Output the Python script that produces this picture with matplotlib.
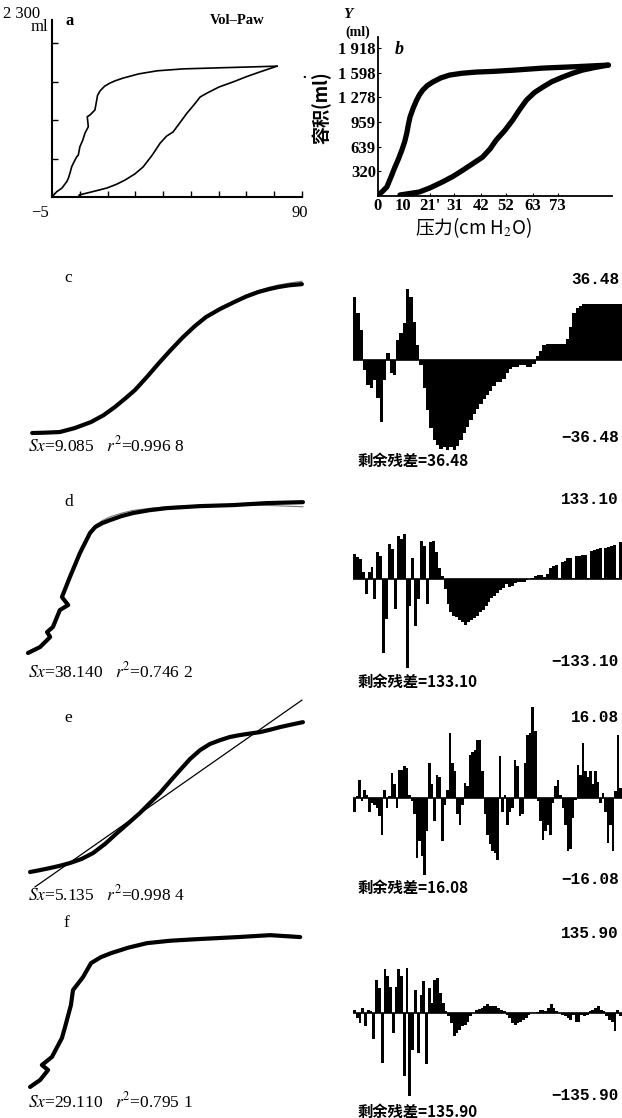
import numpy as np
import matplotlib
matplotlib.use("Agg")
import matplotlib.pyplot as plt

plt.rcParams['font.family'] = ['Liberation Serif', 'Noto Sans CJK SC', 'DejaVu Sans']
plt.rcParams['mathtext.fontset'] = 'stix'

W, H = 622, 1118
CJK = ['Noto Sans CJK SC', 'DejaVu Sans']

# ---- panel a : Vol-Paw loop (cmH2O, ml)
a_infl_p = [5.3, 5.3, 10.5, 15.9, 19.5, 22.8, 26.5, 29.6, 33, 36.1, 38.5, 41.0, 43.5, 46.3, 49,
            51.3, 53.9, 58.5, 63.8, 69, 74.0, 80.5]
a_infl_v = [0, 26, 70, 117, 165, 221, 300, 390, 540, 700, 790, 845, 960, 1090, 1200,
            1300, 1350, 1430, 1495, 1565, 1625, 1700]
a_defl_p = [80.5, 60, 45, 35, 28, 22, 19, 17, 15, 13.3, 12.3, 12.0, 11.3, 9.4, 8.4, 8.8, 7.5,
            6.7, 5.6, 5.0, 4.4, 3.4, 2.5, 1.8, 1.2, 0.6, -1.3, -3.2, -4.7, -5]
a_defl_v = [1700, 1680, 1665, 1640, 1600, 1545, 1510, 1480, 1440, 1380, 1320, 1260, 1130, 1065,
            1043, 913, 827, 740, 653, 545, 523, 458, 394, 307, 242, 199, 113, 69, 13, 0]
a_xticks = np.linspace(-5, 90, 10)
a_yticks = [500, 1000, 1500, 2000]

# ---- panel b
b_infl_p = [8.9, 16.8, 21.1, 26.1, 30.5, 34.5, 38.5, 42.5, 45.5, 48.0, 51.5, 54.7, 57.5, 60.3,
            63.5, 66.9, 70.5, 74.9, 79, 83.0, 88, 93.5]
b_infl_v = [13, 52, 105, 181, 255, 336, 420, 505, 610, 725, 850, 984, 1120, 1243,
            1340, 1411, 1480, 1540, 1590, 1631, 1665, 1696]
b_defl_p = [93.5, 80, 66.9, 55, 47, 40.1, 34, 29.1, 25.5, 22.2, 20, 18.2, 16.8, 15.7, 14.3,
            13.0, 12.3, 11.7, 10.8, 9.7, 8.3, 6.9, 5.2, 3.6, 1.5, 0]
b_defl_v = [1696, 1675, 1657, 1630, 1615, 1606, 1590, 1567, 1530, 1476, 1430, 1373, 1310, 1243,
            1140, 1023, 920, 816, 700, 596, 480, 376, 240, 117, 50, 13]
b_xticks = [0, 10, 21, 31, 42, 52, 63, 73]
b_xlabels = ['0', '10', "21'", '31', '42', '52', '63', '73']
b_yticks = [320, 639, 959, 1278, 1598, 1918]
b_ylabels = ['320', '639', '959', '1 278', '1 598', '1 918']

# ---- panels c-f : measured curve, fitted curve
c_p = [1.2, 5, 9.2, 13.5, 18.2, 21.8, 25.1, 28, 30.9, 34.4, 37.8, 41.3, 44.8, 48.1, 51.4,
       55.5, 59.5, 63, 66.4, 69.5, 72.2, 75.5, 79.1]
c_v = [76, 80, 87, 130, 196, 270, 360, 450, 545, 690, 839, 985, 1123, 1240, 1341,
       1430, 1504, 1565, 1613, 1645, 1668, 1688, 1700]
c_fit = [72, 78, 88, 135, 200, 278, 368, 458, 552, 698, 845, 990, 1128, 1246, 1348,
         1440, 1515, 1580, 1628, 1664, 1690, 1712, 1732]

d_p = [0, 3.5, 6.4, 5.5, 7.2, 9.2, 11.6, 9.8, 12.1, 15.0, 17.9, 19.4, 21.5, 23.7, 27, 30.3,
       35, 40.1, 49.7, 59.2, 69.0, 79.4]
d_v = [55, 120, 229, 283, 338, 523, 578, 665, 883, 1145, 1363, 1428, 1472, 1504, 1548, 1581,
       1612, 1635, 1657, 1668, 1690, 1700]
d_fit = [40, 110, 230, 290, 350, 530, 590, 680, 890, 1150, 1370, 1450, 1500, 1540, 1580, 1610,
         1632, 1650, 1665, 1670, 1665, 1650]

e_p = [0.6, 3.5, 6.4, 9.2, 12.1, 15.5, 18.8, 22.3, 25.7, 29, 32.3, 35.2, 38.1, 41, 43.9, 46.8,
       49.7, 52.6, 55.5, 58.3, 61.2, 64, 67.0, 70, 72.8, 76, 79.4]
e_v = [87, 108, 131, 155, 185, 230, 294, 395, 512, 620, 730, 840, 948, 1075, 1199, 1320,
       1417, 1485, 1526, 1560, 1581, 1597, 1613, 1640, 1668, 1695, 1722]
e_line_p = [2.0, 79.1]
e_line_v = [-76, 1962]

f_p = [0.6, 3.5, 5.8, 4.0, 6.9, 9.8, 10.7, 12.4, 13.0, 15.9, 18.2, 21, 24.0, 29, 34.4, 41,
       49.1, 60.6, 69.9, 78.6]
f_v = [55, 131, 240, 294, 382, 589, 709, 948, 1112, 1254, 1406, 1470, 1515, 1575, 1624, 1650,
       1668, 1690, 1711, 1690]
f_fit = [50, 125, 230, 290, 380, 590, 720, 950, 1120, 1260, 1400, 1470, 1520, 1580, 1630, 1655,
         1675, 1700, 1720, 1705]

sx_text = [r'$Sx$=9.085   $r^2$=0.996 8', r'$Sx$=38.140   $r^2$=0.746 2',
           r'$Sx$=5.135   $r^2$=0.998 4', r'$Sx$=29.110   $r^2$=0.795 1']

# ---- residuals
res_c = [25.1, 18.5, 11.9, -4.0, -9.9, -11.2, -7.9, -15.2, -24.5, -7.9,
         2.6, -5.3, -6.0, 7.9, 10.8, 14.6, 28.2, 25.1, 15.2, 6.0,
         -2.0, -11.2, -19.8, -27.1, -31.7, -33.7, -35.4, -34.4, -35.7, -34.7,
         -35.7, -34.1, -31.7, -29.1, -26.5, -23.8, -21.4, -19.6, -17.6, -15.6,
         -14.0, -12.3, -10.3, -8.7, -8.6, -7.4, -5.0, -3.6, -2.6, -2.6,
         -2.0, -2.0, -2.6, -2.6, -1.6, 1.6, 3.7, 5.8, 6.2, 6.2,
         6.2, 6.2, 6.2, 6.2, 8.2, 13.2, 18.5, 20.5, 21.4,
         22.1, 22.1, 22.1, 22.1, 22.1, 22.1, 22.1, 22.1, 22.1, 22.1, 22.1, 22.1]
res_d = [37, 33, 30, 10, -22, 10, 18, -30, 40, 35, -111, -60, 52, 45, -45, 65, 60, 67, -133, -40,
         32, -70, -30, 57, 50, -37, 55, 57, 40, 17, 5,
         -15, -37, -50, -55, -57, -62, -65, -69, -65, -62, -59, -55, -50, -47, -40, -34, -29, -25,
         -21, -17, -14, -7, -12, -10, -6, -5, -4, -5, -1.5, 0.5, 2, 5, 6, 6, 2.5, 7.5, 17, 20, 21,
         1, 25, 27, 31, 32, 1, 35, 35, 36, 36, 1, 42, 44, 45, 46, 1, 47, 48, 50, 51, 1, 55]
res_e = [-2.4, 0.3, 3.2, -0.6, 1.5, 0.6, -2.4, -0.9, -1.2, -1.8, -3.2, -6.5, 1.5, -1.8, 0.3,
         4.4, 2.4, -1.8, 5.0, 5.0, 5.6, 5.3, 0.6, -0.6, -2.9, -10.6, -7.6, -10.3, -13.6, -5.9,
         6.2, 2.4, -4.1, 4.1, 3.8, -7.6, -1.2, 1.5, 11.5, 6.2, 4.7, -2.9, -4.7, -1.2, 2.6, 2.1,
         7.6, 8.2, 8.5, 10.3, 10.3, 4.7, -2.9, -6.5, -8.2, -9.4, -9.7, -10.9, 7.4, -2.4, 0.6,
         -4.7, -2.4, -1.8, 6.8, 5.6, -3.2, -2.9, 6.2, 11.2, 11.5, 16.1, 11.8, -0.6, -4.1, -7.4,
         -5.9, -4.7, -6.5, -0.9, 2.1, 3.2, 0.6, -1.8, -4.7, -9.4, -9.1, -3.5, -0.3, 5.9, 4.1,
         9.7, 4.7, 3.8, 4.7, 2.4, 4.7, 2.9, -0.9, 0.9, -2.4, -7.9, -4.7, -9.4, 1.2, 11.2, 1.8]
res_f = [5, -8, -16, 8, -22, 5, 3, -43, 54, 40, -82, 71, 60, 43, -33, 43, 71, 60, -103, 73,
         -136, -60, 38, -65, 30, 52, -84, 41, 16, 54, 57, 33, 16, 3, -5, -16, -38, -33, -27, -22,
         -19, -14, -5, 0, 5, 7, 8, 11, 14, 12, 11, 11, 8, 5, 3, -3, -8, -16, -19, -16, -15, -11,
         -8, -3, 0, 0, 2, 5, 5, 3, 8, 14, 8, 4, 0, -3, -5, -8, -11, -4, -14, -14, -3, -5, -3, 3,
         5, 8, 11, 5, 3, -5, -11, -14, -30, 5, -5]
res_lim = [37.7, 142, 16.8, 155]
res_max = ['36.48', '133.10', '16.08', '135.90']

fig = plt.figure(figsize=(W / 100, H / 100), dpi=100)


def box(l, t, r, b):
    return fig.add_axes([l / W, 1 - b / H, (r - l) / W, (b - t) / H])


def txt(x, y, s, **kw):
    kw.setdefault('ha', 'left')
    kw.setdefault('va', 'center')
    fig.text(x / W, 1 - y / H, s, **kw)


# ---- a
ax = box(52, 20, 302, 197)
ax.plot(a_infl_p, a_infl_v, color='black', lw=1.2)
ax.plot(a_defl_p, a_defl_v, color='black', lw=1.2)
ax.set_xlim(-5, 90)
ax.set_ylim(0, 2300)
ax.set_xticks(a_xticks)
ax.set_yticks(a_yticks)
ax.set_xticklabels([])
ax.set_yticklabels([])
ax.tick_params(direction='in', length=4, width=1)
for s in ['top', 'right']:
    ax.spines[s].set_visible(False)
for s in ['left', 'bottom']:
    ax.spines[s].set_linewidth(1.5)
txt(3, 14, '2 300', fontsize=12)
txt(31, 27, 'ml', fontsize=12)
txt(66, 21, 'a', fontsize=12, fontweight='bold')
txt(210, 21, 'Vol\u2013Paw', fontsize=10.5, fontweight='bold')
txt(40, 213, '\u22125', fontsize=12, ha='center')
txt(300, 213, '90', fontsize=12, ha='center')
txt(302, 74, '.', fontsize=11, fontweight='bold')

# ---- b
ax = box(378, 37, 612, 196)
ax.plot(b_infl_p, b_infl_v, color='black', lw=3.8, solid_capstyle='round', solid_joinstyle='round')
ax.plot(b_defl_p, b_defl_v, color='black', lw=3.8, solid_capstyle='round', solid_joinstyle='round')
ax.set_xlim(0, 95)
ax.set_ylim(0, 2060)
ax.set_xticks(b_xticks)
ax.set_yticks(b_yticks)
ax.set_yticklabels(b_ylabels, fontsize=12, fontweight='bold')
ax.set_xticklabels(b_xlabels, fontsize=12, fontweight='bold')
ax.tick_params(direction='in', length=2, pad=1.5)
for s in ['top', 'right']:
    ax.spines[s].set_visible(False)
for s in ['left', 'bottom']:
    ax.spines[s].set_linewidth(1.3)
txt(343, 14, 'Y', fontsize=11, fontstyle='italic', fontweight='bold')
txt(345, 32, '(ml)', fontsize=10, fontweight='bold')
txt(395, 50, 'b', fontsize=13, fontstyle='italic', fontweight='bold')
txt(322, 108, '容积(ml)', fontsize=13, rotation=90, ha='center', family=CJK, fontweight='bold')
txt(473, 228, '压力(cm H$_2$O)', fontsize=13.5, ha='center', family=CJK)

# ---- c-f curves
left_base = [440, 658, 880, 1092]
letters = ['c', 'd', 'e', 'f']
letter_y = [278, 502, 718, 923]
sx_y = [445, 671, 894, 1101]
curves = [(c_p, c_v, c_fit), (d_p, d_v, d_fit), (e_p, e_v, None), (f_p, f_v, f_fit)]
for i, (px, pv, fit) in enumerate(curves):
    yb = left_base[i]
    ax = box(28, yb - 165, 305, yb)
    ax.set_xlim(0, 80)
    ax.set_ylim(0, 1800)
    ax.axis('off')
    if fit is not None:
        ax.plot(px, fit, color='#777777', lw=0.8, clip_on=False, zorder=1)
    else:
        ax.plot(e_line_p, e_line_v, color='black', lw=0.9, clip_on=False, zorder=3)
    ax.plot(px, pv, color='black', lw=3.0, solid_joinstyle='round',
            solid_capstyle='round', clip_on=False, zorder=2)
    txt(64, letter_y[i], letters[i], fontsize=12.5)
    txt(28, sx_y[i], sx_text[i], fontsize=12.5)

# ---- residuals
res_base = [360, 579, 798, 1013]
all_res = [res_c, res_d, res_e, res_f]
lab_y = [(461, 279, 438), (682, 499, 661), (888, 718, 879), (1112, 934, 1095)]
for i, r in enumerate(all_res):
    yb = res_base[i]
    ax = box(353, yb - 95, 622, yb + 95)
    n = len(r)
    ax.bar(np.arange(n), r, width=1.0, align='edge', color='black', linewidth=0)
    ax.axhline(0, color='black', lw=1.2)
    ax.set_xlim(0, n)
    ax.set_ylim(-res_lim[i], res_lim[i])
    ax.axis('off')
    ly, ty, by = lab_y[i]
    txt(357, ly, '剩余残差=' + res_max[i], fontsize=11, family=CJK, fontweight='bold')
    txt(619, ty, res_max[i], fontsize=11.5, ha='right', family=['Liberation Mono'], fontweight='bold')
    txt(619, by, '\u2212' + res_max[i], fontsize=11.5, ha='right',
        family=['Liberation Mono', 'DejaVu Sans'], fontweight='bold')

fig.savefig('out.png', dpi=100, facecolor='white')
